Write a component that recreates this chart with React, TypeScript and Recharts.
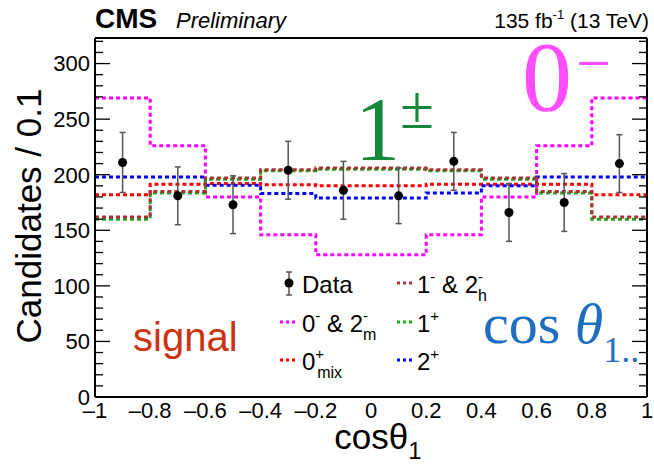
import React from 'react';
import { ComposedChart, Line, Scatter, XAxis, YAxis, ErrorBar } from 'recharts';

// bins of cos(theta1), width 0.2
const binEdges = [-1, -0.8, -0.6, -0.4, -0.2, 0, 0.2, 0.4, 0.6, 0.8, 1];
const binCenters = [-0.9, -0.7, -0.5, -0.3, -0.1, 0.1, 0.3, 0.5, 0.7, 0.9];

// observed data
const dataCounts = [211, 181, 173, 204, 186, 181, 212, 166, 175, 210];
const dataErrors = [27, 26, 26, 26, 26, 25, 26, 26, 26, 26];

// signal hypotheses (per bin)
const zeroMinusM = [269, 226, 180, 146, 128, 128, 146, 180, 226, 269];
const zeroMix = [182, 191.5, 192, 191, 190, 190, 191.5, 191.5, 191.5, 182];
const twoPlus = [198, 198, 190.5, 183, 179, 179, 183.5, 190, 198, 198];
const onePlus = [160, 183.5, 196, 203.5, 205, 205, 203.5, 196, 183.5, 160];
const oneMinusH = [162, 185, 197, 204.5, 206, 206, 204.5, 197, 185, 162];

const xLabelTicks = [-1, -0.8, -0.6, -0.4, -0.2, 0, 0.2, 0.4, 0.6, 0.8, 1];
const xMinorTicks = Array.from({ length: 41 }, (_, i) => Math.round((-1 + i * 0.05) * 100) / 100);
const yLabelTicks = [0, 50, 100, 150, 200, 250, 300];
const yMinorTicks = Array.from({ length: 33 }, (_, i) => i * 10);

const X_DOMAIN: [number, number] = [-1, 1];
const Y_DOMAIN: [number, number] = [0, 323];

const SANS = '"Liberation Sans", Arial, Helvetica, sans-serif';
const SERIF = '"Liberation Serif", "Times New Roman", serif';

const toSteps = (values: number[]) =>
  binEdges.map((x, i) => ({ x, y: values[Math.min(i, values.length - 1)] }));

const points = binCenters.map((x, i) => ({ x, y: dataCounts[i], err: dataErrors[i] }));

const histos = [
  { key: 'zeroMinusM', values: zeroMinusM, color: '#ff00ff' },
  { key: 'zeroMix', values: zeroMix, color: '#ff0000' },
  { key: 'twoPlus', values: twoPlus, color: '#0000ff' },
  { key: 'onePlus', values: onePlus, color: '#1fa81f' },
  { key: 'oneMinusH', values: oneMinusH, color: '#a83232' },
];

const isMajor = (v: number, majors: number[]) => majors.some((m) => Math.abs(m - v) < 1e-6);

function tickMark(side: string, majors: number[], majorLen: number, minorLen: number) {
  return (props: any) => {
    const { x, y, payload } = props;
    const len = isMajor(payload.value, majors) ? majorLen : minorLen;
    let x2 = x;
    let y2 = y;
    if (side === 'bottom') y2 = y - len;
    if (side === 'top') y2 = y + len;
    if (side === 'left') x2 = x + len;
    if (side === 'right') x2 = x - len;
    return <line x1={x} y1={y} x2={x2} y2={y2} stroke="#000" strokeWidth={1.3} />;
  };
}

const fmtX = (v: number) => (v < 0 ? '\u2013' : '') + String(Math.abs(v));

const frameLine = { stroke: '#000', strokeWidth: 2 };
const labelTick = { fill: '#000', fontSize: 22, fontFamily: SANS };

const DataDot = (p: any) => <circle cx={p.cx} cy={p.cy} r={4.5} fill="#000" />;

export default function App() {
  return (
    <div style={{ position: 'relative', width: 654, height: 464, background: '#fff' }}>
      <style>{'body{margin:0}'}</style>
      <ComposedChart width={654} height={464} margin={{ top: 38, right: 7, bottom: 0, left: 0 }}>
        <XAxis
          xAxisId="x"
          type="number"
          dataKey="x"
          domain={X_DOMAIN}
          allowDataOverflow
          ticks={xLabelTicks}
          interval={0}
          height={67}
          tickLine={false}
          axisLine={false}
          tickSize={0}
          tickMargin={5}
          tick={labelTick}
          tickFormatter={fmtX}
        />
        <YAxis
          yAxisId="y"
          type="number"
          dataKey="y"
          domain={Y_DOMAIN}
          allowDataOverflow
          ticks={yLabelTicks}
          interval={0}
          width={95}
          tickLine={false}
          axisLine={false}
          tickSize={0}
          tickMargin={5}
          tick={labelTick}
        />
        {/* frame with inward ticks on all four sides */}
        <XAxis xAxisId="bot" orientation="bottom" mirror type="number" domain={X_DOMAIN} allowDataOverflow
          ticks={xMinorTicks} interval={0} tickLine={false} tickSize={0} tickMargin={0} axisLine={frameLine}
          tick={tickMark('bottom', xLabelTicks, 13, 6)} />
        <XAxis xAxisId="top" orientation="top" mirror type="number" domain={X_DOMAIN} allowDataOverflow
          ticks={xMinorTicks} interval={0} tickLine={false} tickSize={0} tickMargin={0} axisLine={frameLine}
          tick={tickMark('top', xLabelTicks, 13, 6)} />
        <YAxis yAxisId="left" orientation="left" mirror type="number" domain={Y_DOMAIN} allowDataOverflow
          ticks={yMinorTicks} interval={0} tickLine={false} tickSize={0} tickMargin={0} axisLine={frameLine}
          tick={tickMark('left', yLabelTicks, 15, 8)} />
        <YAxis yAxisId="right" orientation="right" mirror type="number" domain={Y_DOMAIN} allowDataOverflow
          ticks={yMinorTicks} interval={0} tickLine={false} tickSize={0} tickMargin={0} axisLine={frameLine}
          tick={tickMark('right', yLabelTicks, 15, 8)} />

        {histos.map((h) => (
          <Line
            key={h.key}
            xAxisId="x"
            yAxisId="y"
            data={toSteps(h.values)}
            dataKey="y"
            type="stepAfter"
            stroke={h.color}
            strokeWidth={3}
            strokeDasharray="4 3"
            dot={false}
            activeDot={false}
            isAnimationActive={false}
          />
        ))}

        <Scatter xAxisId="x" yAxisId="y" data={points} dataKey="y" shape={DataDot} isAnimationActive={false}>
          <ErrorBar dataKey="err" direction="y" width={3} stroke="#555" strokeWidth={1.5} isAnimationActive={false} />
        </Scatter>
      </ComposedChart>

      <svg width={654} height={464} style={{ position: 'absolute', left: 0, top: 0, pointerEvents: 'none' }}>
        {/* header */}
        <text x={95} y={28} fontFamily={SANS} fontWeight="bold" fontSize={28}>CMS</text>
        <text x={176} y={28} fontFamily={SANS} fontStyle="italic" fontSize={22}>Preliminary</text>
        <text x={649} y={28} textAnchor="end" fontFamily={SANS} fontSize={21}>
          135 fb<tspan dy={-9} fontSize={13}>-1</tspan>
          <tspan dy={9}> (13 TeV)</tspan>
        </text>

        {/* axis titles */}
        <text transform="translate(41,216) rotate(-90)" textAnchor="middle" fontFamily={SANS} fontSize={35}>
          Candidates / 0.1
        </text>
        <text x={378} y={449} textAnchor="middle" fontFamily={SANS} fontSize={35}>
          cosθ<tspan dy={10} fontSize={24}>1</tspan>
        </text>

        {/* annotations */}
        <text x={355} y={160} fill="#16883a" fontFamily={SERIF} fontSize={90}>
          1<tspan dy={-32} fontSize={62}>±</tspan>
        </text>
        <text x={522} y={110} fill="#ff4dff" fontFamily={SERIF} fontSize={100}>
          0<tspan dx={4} dy={-26} fontSize={62}>−</tspan>
        </text>
        <text x={133} y={351} fill="#cc3311" fontFamily={SANS} fontSize={40}>signal</text>
        <text x={483} y={343} fill="#1f6ebf" fontFamily={SERIF} fontSize={58}>
          cos <tspan fontStyle="italic">θ</tspan>
          <tspan dy={19} fontSize={36}>1..</tspan>
        </text>

        {/* legend */}
        <g fontFamily={SANS} fontSize={24} fill="#000">
          <line x1={289} y1={272} x2={289} y2={295} stroke="#555" strokeWidth={1.5} />
          <line x1={286} y1={272} x2={292} y2={272} stroke="#555" strokeWidth={1.5} />
          <line x1={286} y1={295} x2={292} y2={295} stroke="#555" strokeWidth={1.5} />
          <circle cx={289} cy={283} r={4.5} fill="#000" />
          <text x={302} y={293}>Data</text>

          <line x1={397} y1={283} x2={414} y2={283} stroke="#a83232" strokeWidth={3} strokeDasharray="3 3" />
          <text x={417} y={293}>
            1<tspan dy={-11} fontSize={15}>-</tspan>
            <tspan dy={11}> &amp; 2</tspan>
            <tspan dy={-11} fontSize={15}>-</tspan>
            <tspan dx={-5} dy={19} fontSize={16}>h</tspan>
          </text>

          <line x1={280} y1={322} x2={298} y2={322} stroke="#ff00ff" strokeWidth={3} strokeDasharray="3 3" />
          <text x={302} y={332}>
            0<tspan dy={-11} fontSize={15}>-</tspan>
            <tspan dy={11}> &amp; 2</tspan>
            <tspan dy={-11} fontSize={15}>-</tspan>
            <tspan dx={-5} dy={19} fontSize={16}>m</tspan>
          </text>

          <line x1={397} y1={322} x2={414} y2={322} stroke="#1fa81f" strokeWidth={3} strokeDasharray="3 3" />
          <text x={417} y={332}>
            1<tspan dy={-11} fontSize={15}>+</tspan>
          </text>

          <line x1={280} y1={360} x2={298} y2={360} stroke="#ff0000" strokeWidth={3} strokeDasharray="3 3" />
          <text x={302} y={370}>
            0<tspan dy={-11} fontSize={15}>+</tspan>
            <tspan dx={-7} dy={19} fontSize={16}>mix</tspan>
          </text>

          <line x1={397} y1={360} x2={414} y2={360} stroke="#0000ff" strokeWidth={3} strokeDasharray="3 3" />
          <text x={417} y={370}>
            2<tspan dy={-11} fontSize={15}>+</tspan>
          </text>
        </g>
      </svg>
    </div>
  );
}
